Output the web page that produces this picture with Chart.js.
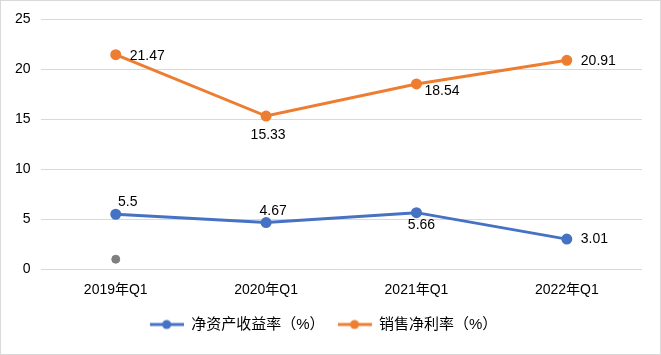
<!DOCTYPE html>
<html>
<head>
<meta charset="utf-8">
<script src="https://cdn.jsdelivr.net/npm/chart.js@4/dist/chart.umd.min.js"></script>
<style>
    html, body { margin: 0; padding: 0; background: #fff; }
    #wrap { width: 661px; height: 355px; box-sizing: border-box; border: 1px solid #d9d9d9; }
    #chart { display: block; }
</style>
</head>
<body>
<div id="wrap"><canvas id="chart" width="659" height="353"></canvas></div>
<script>
var categories = ['2019年Q1', '2020年Q1', '2021年Q1', '2022年Q1'];
var roeValues = [5.5, 4.67, 5.66, 3.01];
var marginValues = [21.47, 15.33, 18.54, 20.91];
var extraValues = [1, null, null, null];
var yTicks = [0, 5, 10, 15, 20, 25];
// label offsets from each point: [dx, dy, align]
var roeLabelPos = [[12, -12, 'center'], [7, -11, 'center'], [5, 12, 'center'], [14, 0, 'left']];
var marginLabelPos = [[14, 1, 'left'], [2, 19, 'center'], [8, 7, 'left'], [14, 1, 'left']];

var blue = '#4672c4';
var orange = '#ed7d31';
var numFont = '"Liberation Sans", "Noto Sans CJK SC", sans-serif';

function legendIcon(color) {
    var c = document.createElement('canvas');
    c.width = 34;
    c.height = 12;
    var ctx = c.getContext('2d');
    ctx.strokeStyle = color;
    ctx.lineWidth = 3;
    ctx.beginPath();
    ctx.moveTo(0, 6);
    ctx.lineTo(34, 6);
    ctx.stroke();
    ctx.fillStyle = color;
    ctx.beginPath();
    ctx.arc(17, 6, 4.5, 0, Math.PI * 2);
    ctx.fill();
    return c;
}

var valueLabels = {
    id: 'valueLabels',
    afterDatasetsDraw: function(chart) {
        var ctx = chart.ctx;
        ctx.save();
        ctx.font = '14px ' + numFont;
        ctx.fillStyle = '#000';
        ctx.textBaseline = 'middle';
        chart.data.datasets.forEach(function(ds, i) {
            if (!ds.labelPos) return;
            var meta = chart.getDatasetMeta(i);
            meta.data.forEach(function(pt, j) {
                var v = ds.data[j];
                if (v == null) return;
                var pos = ds.labelPos[j];
                ctx.textAlign = pos[2];
                ctx.fillText(String(v), pt.x + pos[0], pt.y + pos[1]);
            });
        });
        ctx.restore();
    }
};

new Chart(document.getElementById('chart'), {
    type: 'line',
    data: {
        labels: categories,
        datasets: [{
            label: '净资产收益率（%）',
            data: roeValues,
            borderColor: blue,
            backgroundColor: blue,
            borderWidth: 3,
            pointRadius: 4,
            pointHoverRadius: 4,
            legendIcon: legendIcon(blue),
            labelPos: roeLabelPos
        }, {
            label: '销售净利率（%）',
            data: marginValues,
            borderColor: orange,
            backgroundColor: orange,
            borderWidth: 3,
            pointRadius: 4,
            pointHoverRadius: 4,
            legendIcon: legendIcon(orange),
            labelPos: marginLabelPos
        }, {
            label: 'extra',
            data: extraValues,
            borderColor: '#7f7f7f',
            backgroundColor: '#7f7f7f',
            showLine: false,
            pointRadius: 4,
            pointHoverRadius: 4
        }]
    },
    options: {
        responsive: false,
        animation: false,
        layout: { padding: { left: 4, right: 18, top: 17, bottom: 12 } },
        scales: {
            x: {
                offset: true,
                grid: { display: false },
                border: { display: false },
                ticks: {
                    color: '#000',
                    font: { size: 14, family: numFont },
                    padding: 5
                }
            },
            y: {
                min: 0,
                max: 25,
                afterBuildTicks: function(axis) {
                    axis.ticks = yTicks.map(function(v) { return { value: v }; });
                },
                grid: { color: '#d9d9d9', lineWidth: 1, drawTicks: false },
                border: { display: false },
                ticks: {
                    color: '#000',
                    font: { size: 14, family: numFont },
                    padding: 10
                }
            }
        },
        plugins: {
            tooltip: { enabled: false },
            legend: {
                position: 'bottom',
                labels: {
                    usePointStyle: true,
                    pointStyleWidth: 34,
                    color: '#000',
                    font: { size: 15, family: numFont },
                    padding: 13,
                    generateLabels: function(chart) {
                        return chart.data.datasets.map(function(ds, i) {
                            return {
                                text: ds.label,
                                pointStyle: ds.legendIcon,
                                fillStyle: ds.backgroundColor,
                                strokeStyle: ds.borderColor,
                                lineWidth: 0,
                                datasetIndex: i,
                                hidden: !ds.legendIcon
                            };
                        }).filter(function(item) { return !item.hidden; });
                    }
                }
            }
        }
    },
    plugins: [valueLabels]
});
</script>
</body>
</html>
